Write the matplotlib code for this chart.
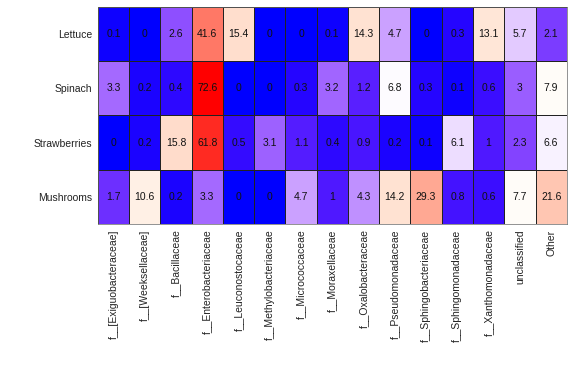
import numpy as np
import matplotlib
matplotlib.use('Agg')
import matplotlib.pyplot as plt
from matplotlib.colors import ListedColormap, TwoSlopeNorm

plt.rcParams['font.family'] = ['Liberation Sans', 'DejaVu Sans']

samples = ['Lettuce', 'Spinach', 'Strawberries', 'Mushrooms']
families = ['f__[Exiguobacteraceae]', 'f__[Weeksellaceae]', 'f__Bacillaceae',
            'f__Enterobacteriaceae', 'f__Leuconostocaceae', 'f__Methylobacteriaceae',
            'f__Micrococcaceae', 'f__Moraxellaceae', 'f__Oxalobacteraceae',
            'f__Pseudomonadaceae', 'f__Sphingobacteriaceae', 'f__Sphingomonadaceae',
            'f__Xanthomonadaceae', 'unclassified', 'Other']

lettuce = [0.1, 0, 2.6, 41.6, 15.4, 0, 0, 0.1, 14.3, 4.7, 0, 0.3, 13.1, 5.7, 2.1]
spinach = [3.3, 0.2, 0.4, 72.6, 0, 0, 0.3, 3.2, 1.2, 6.8, 0.3, 0.1, 0.6, 3, 7.9]
strawberries = [0, 0.2, 15.8, 61.8, 0.5, 3.1, 1.1, 0.4, 0.9, 0.2, 0.1, 6.1, 1, 2.3, 6.6]
mushrooms = [1.7, 10.6, 0.2, 3.3, 0, 0, 4.7, 1, 4.3, 14.2, 29.3, 0.8, 0.6, 7.7, 21.6]

data = np.array([lettuce, spinach, strawberries, mushrooms])

# blue -> white -> red, purple-ish on the blue side
s = np.linspace(0, 1, 256)
cols = np.ones((256, 4))
lo = s <= 0.5
t = s[lo] / 0.5
cols[lo, 0] = t ** 0.6
cols[lo, 1] = t ** 1.2
cols[lo, 2] = 1
t = (s[~lo] - 0.5) / 0.5
cols[~lo, 0] = 1
cols[~lo, 1] = 1 - t
cols[~lo, 2] = 1 - t ** 0.8
cmap = ListedColormap(cols)
norm = TwoSlopeNorm(vmin=0, vcenter=6.9, vmax=data.max())

fig = plt.figure(figsize=(5.76, 3.84), dpi=100)
ax = fig.add_axes([0.170, 0.417, 0.814, 0.565])
ax.pcolormesh(data, cmap=cmap, norm=norm, edgecolors='#222222', linewidth=0.5)
ax.set_xlim(0, data.shape[1])
ax.set_ylim(data.shape[0], 0)

for i in range(data.shape[0]):
    for j in range(data.shape[1]):
        ax.text(j + 0.5, i + 0.5, f'{data[i, j]:g}', ha='center', va='center',
                fontsize=7.5, color='#111111')

ax.set_xticks(np.arange(len(families)) + 0.5)
ax.set_xticklabels(families, rotation=90, fontsize=7.5, color='#222222')
ax.set_yticks(np.arange(len(samples)) + 0.5)
ax.set_yticklabels(samples, fontsize=7.5, color='#222222')
ax.tick_params(length=0, pad=4)
for sp in ax.spines.values():
    sp.set_color('#666666')
    sp.set_linewidth(0.5)

fig.savefig('out.png', dpi=100)
